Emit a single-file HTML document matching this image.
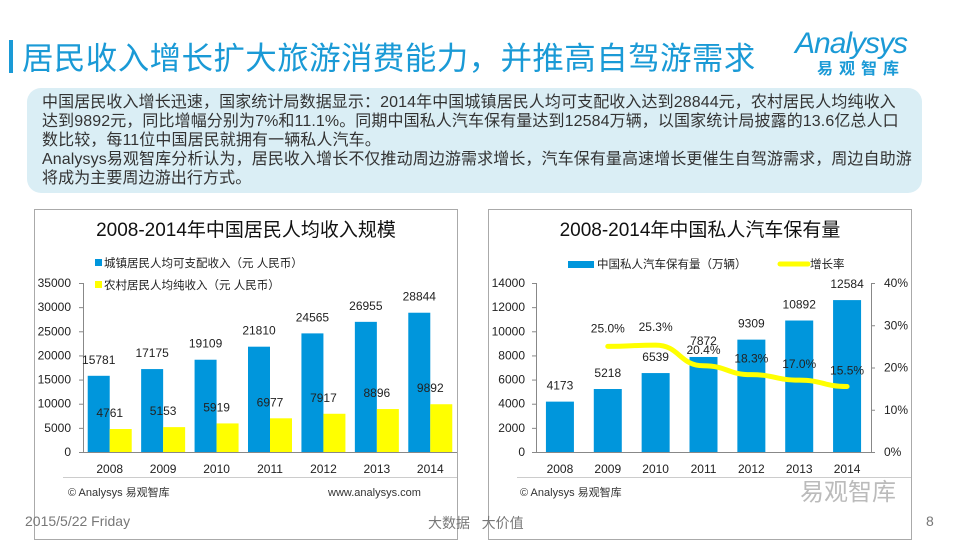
<!DOCTYPE html>
<html><head><meta charset="utf-8">
<style>
body{margin:0;width:960px;height:540px;background:#fff;overflow:hidden;font-family:"Liberation Sans","Noto Sans CJK SC",sans-serif;position:relative}
.abs{position:absolute}
#title{left:22px;top:33px;font-size:31.5px;color:#1a9ad6;white-space:nowrap;letter-spacing:0.4px}
#bar{left:9px;top:40px;width:4px;height:33px;background:#1a9ad6}
#box{left:27px;top:88px;width:895px;height:105px;background:#daeef5;border-radius:14px}
#box p{margin:0;position:absolute;left:15px;top:5px;width:880px;font-size:16px;line-height:19px;color:#333;white-space:nowrap;letter-spacing:0.1px}
.foot{font-size:14px;color:#777;top:513px}
</style></head><body>
<div class="abs" id="bar"></div>
<div class="abs" id="title">居民收入增长扩大旅游消费能力，并推高自驾游需求</div>
<div class="abs" style="left:795px;top:28px;width:140px;height:60px;color:#1a9ad6">
<div style="font-size:30px;font-style:italic;letter-spacing:-1px;line-height:32px">Analysys</div>
<div style="font-size:16px;font-weight:bold;letter-spacing:6px;margin-left:22px;line-height:20px">易观智库</div></div>
<div class="abs" id="box"><p>中国居民收入增长迅速，国家统计局数据显示：2014年中国城镇居民人均可支配收入达到28844元，农村居民人均纯收入<br>达到9892元，同比增幅分别为7%和11.1%。同期中国私人汽车保有量达到12584万辆，以国家统计局披露的13.6亿总人口<br>数比较，每11位中国居民就拥有一辆私人汽车。<br>Analysys易观智库分析认为，居民收入增长不仅推动周边游需求增长，汽车保有量高速增长更催生自驾游需求，周边自助游<br>将成为主要周边游出行方式。</p></div>

<svg class="abs" style="left:0;top:0" width="960" height="540" id="svg">
<rect x="34.5" y="209.5" width="423" height="330" fill="none" stroke="#aaa"/>
<rect x="488.5" y="209.5" width="423" height="330" fill="none" stroke="#aaa"/>
<text x="246" y="236" font-size="19" text-anchor="middle" fill="#111">2008-2014年中国居民人均收入规模</text>
<text x="700" y="236" font-size="19" text-anchor="middle" fill="#111">2008-2014年中国私人汽车保有量</text>
<rect x="95" y="259" width="7" height="7" fill="#0096dc"/>
<text x="104" y="267" font-size="11.5" fill="#222">城镇居民人均可支配收入（元 人民币）</text>
<rect x="95" y="281" width="7" height="7" fill="#ffff00"/>
<text x="104" y="289" font-size="11.5" fill="#222">农村居民人均纯收入（元 人民币）</text>
<rect x="568" y="261" width="26" height="7" fill="#0096dc"/>
<text x="597" y="268" font-size="11.5" fill="#222">中国私人汽车保有量（万辆）</text>
<line x1="780" y1="264" x2="808" y2="264" stroke="#ffff00" stroke-width="5" stroke-linecap="round"/>
<text x="810" y="268" font-size="11.5" fill="#222">增长率</text>
<line x1="63" y1="477.5" x2="457" y2="477.5" stroke="#ccc"/>
<line x1="517" y1="477.5" x2="911" y2="477.5" stroke="#ccc"/>
<text x="68" y="496" font-size="11" fill="#333">© Analysys 易观智库</text>
<text x="328" y="496" font-size="11" fill="#333">www.analysys.com</text>
<text x="520" y="496" font-size="11" fill="#333">© Analysys 易观智库</text>
<text x="800" y="500" font-size="24" fill="#bbb">易观智库</text>
<g id="g1"></g><g id="g2"></g>
</svg>
<div class="abs foot" style="left:25px">2015/5/22 Friday</div>
<div class="abs foot" style="left:428px">大数据&nbsp;&nbsp;&nbsp;大价值</div>
<div class="abs foot" style="left:926px">8</div>
<script>
const years=["2008","2009","2010","2011","2012","2013","2014"];
const urban=[15781,17175,19109,21810,24565,26955,28844];
const rural=[4761,5153,5919,6977,7917,8896,9892];
const cars=[4173,5218,6539,7872,9309,10892,12584];
const growth=[null,25.0,25.3,20.4,18.3,17.0,15.5];
const incomeTicks=[0,5000,10000,15000,20000,25000,30000,35000];
const carTicks=[0,2000,4000,6000,8000,10000,12000,14000];
const pctTicks=[0,10,20,30,40];
const NS="http://www.w3.org/2000/svg";
function mk(p,t,a,txt){const e=document.createElementNS(NS,t);for(const k in a)e.setAttribute(k,a[k]);if(txt!=null)e.textContent=txt;p.appendChild(e);return e;}
const plotTop=283,plotBot=452;
// chart 1
const g1=document.getElementById('g1');
const x1=83,x1r=457,cw1=(x1r-x1)/7;
const y1=v=>plotBot-v/35000*(plotBot-plotTop);
let e=mk(g1,'line',{x1:x1+.5,y1:plotTop,x2:x1+.5,y2:plotBot,stroke:'#888'});

e=mk(g1,'line',{x1:x1,y1:plotBot+.5,x2:x1r,y2:plotBot+.5,stroke:'#888'});

incomeTicks.forEach(t=>{mk(g1,'line',{x1:x1-4,x2:x1,y1:y1(t)+.5,y2:y1(t)+.5,stroke:'#888'});
 e=mk(g1,'text',{x:71,y:y1(t)+4,'font-size':12,'text-anchor':'end',fill:'#222'},String(t));
 });
years.forEach((yr,i)=>{const c=x1+cw1*(i+.5);
 e=mk(g1,'rect',{x:c-22,y:y1(urban[i]),width:22,height:plotBot-y1(urban[i]),fill:'#0096dc'});
 
 e=mk(g1,'rect',{x:c,y:y1(rural[i]),width:22,height:plotBot-y1(rural[i]),fill:'#ffff00'});
 
 e=mk(g1,'text',{x:c-11,y:y1(urban[i])-12,'font-size':12,'text-anchor':'middle',fill:'#222'},String(urban[i]));
 
 e=mk(g1,'text',{x:c,y:y1(rural[i])-12,'font-size':12,'text-anchor':'middle',fill:'#222'},String(rural[i]));
 
 e=mk(g1,'text',{x:c,y:473,'font-size':12,'text-anchor':'middle',fill:'#222'},yr);
 });
// chart 2
const g2=document.getElementById('g2');
const x2=536,x2r=871,cw2=(x2r-x2)/7;
const y2=v=>plotBot-v/14000*(plotBot-plotTop);
const yp=v=>plotBot-v/40*(plotBot-plotTop);
e=mk(g2,'line',{x1:x2+.5,y1:plotTop,x2:x2+.5,y2:plotBot,stroke:'#888'});

e=mk(g2,'line',{x1:x2r+.5,y1:plotTop,x2:x2r+.5,y2:plotBot,stroke:'#888'});

e=mk(g2,'line',{x1:x2,y1:plotBot+.5,x2:x2r,y2:plotBot+.5,stroke:'#888'});

carTicks.forEach(t=>{mk(g2,'line',{x1:x2-4,x2:x2,y1:y2(t)+.5,y2:y2(t)+.5,stroke:'#888'});
 e=mk(g2,'text',{x:525,y:y2(t)+4,'font-size':12,'text-anchor':'end',fill:'#222'},String(t));
 });
pctTicks.forEach(t=>{mk(g2,'line',{x1:x2r,x2:x2r+4,y1:yp(t)+.5,y2:yp(t)+.5,stroke:'#888'});
 e=mk(g2,'text',{x:884,y:yp(t)+4,'font-size':12,fill:'#222'},t+'%');
 });
years.forEach((yr,i)=>{const c=x2+cw2*(i+.5);
 e=mk(g2,'rect',{x:c-14,y:y2(cars[i]),width:28,height:plotBot-y2(cars[i]),fill:'#0096dc'});
 
 e=mk(g2,'text',{x:c,y:y2(cars[i])-12,'font-size':12,'text-anchor':'middle',fill:'#222'},String(cars[i]));
 
 e=mk(g2,'text',{x:c,y:473,'font-size':12,'text-anchor':'middle',fill:'#222'},yr);
 });
let pts=[];
growth.forEach((v,i)=>{if(v!=null)pts.push([x2+cw2*(i+.5),yp(v)]);});
let d='M'+pts[0][0]+' '+pts[0][1];
for(let i=1;i<pts.length;i++){const a=pts[i-1],b=pts[i],m=(b[0]-a[0])/2;d+=` C${a[0]+m} ${a[1]} ${b[0]-m} ${b[1]} ${b[0]} ${b[1]}`;}
e=mk(g2,'path',{d:d,fill:'none',stroke:'#ffff00','stroke-width':5,'stroke-linecap':'round'});

growth.forEach((v,i)=>{if(v==null)return;const c=x2+cw2*(i+.5);
 e=mk(g2,'text',{x:c,y:yp(v)-(i<3?14:12),'font-size':12,'text-anchor':'middle',fill:'#222'},v.toFixed(1)+'%');
 });
</script>
</body></html>
